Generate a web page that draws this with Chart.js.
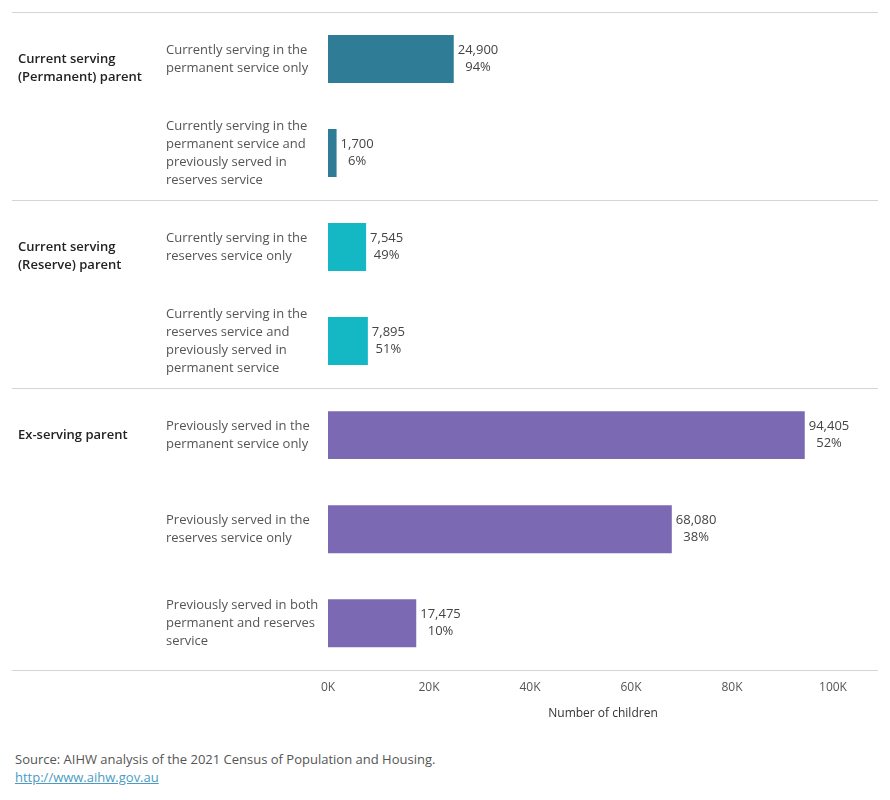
<!DOCTYPE html>
<html>
<head>
<meta charset="utf-8">
<script src="https://cdn.jsdelivr.net/npm/chart.js@4"></script>
<style>
    body { margin: 0; background: #fff; font-family: "Open Sans", sans-serif; }
    #wrap { position: relative; width: 890px; height: 800px; }
    #chart { position: absolute; left: 0; top: 0; }
    .note { position: absolute; left: 15px; font-size: 13px; color: #555; }
    .note a { color: #4a9bc4; }
</style>
</head>
<body>
<div id="wrap">
    <canvas id="chart" width="890" height="725"></canvas>
    <div class="note" style="top: 750px;">Source: AIHW analysis of the 2021 Census of Population and Housing.</div>
    <div class="note" style="top: 768px;"><a href="#">http://www.aihw.gov.au</a></div>
</div>
<script>
const groupLabels = [
    ['Current serving', '(Permanent) parent'],
    ['Current serving', '(Reserve) parent'],
    ['Ex-serving parent']
];
const groupSizes = [2, 2, 3];
const categories = [
    ['Currently serving in the', 'permanent service only'],
    ['Currently serving in the', 'permanent service and', 'previously served in', 'reserves service'],
    ['Currently serving in the', 'reserves service only'],
    ['Currently serving in the', 'reserves service and', 'previously served in', 'permanent service'],
    ['Previously served in the', 'permanent service only'],
    ['Previously served in the', 'reserves service only'],
    ['Previously served in both', 'permanent and reserves', 'service']
];
const children = [24900, 1700, 7545, 7895, 94405, 68080, 17475];
const shares = ['94%', '6%', '49%', '51%', '52%', '38%', '10%'];
const groupColors = ['#2e7c96', '#14b8c4', '#7b6ab3'];
const tickValues = [0, 20000, 40000, 60000, 80000, 100000];

// colour of each bar follows its group
const barColors = [];
groupSizes.forEach((n, g) => { for (let i = 0; i < n; i++) barColors.push(groupColors[g]); });

const FONT = '"Open Sans", sans-serif';

const groupPlugin = {
    id: 'groups',
    afterDraw(chart) {
        const ctx = chart.ctx;
        const y = chart.scales.y;
        const step = y.getPixelForValue(1) - y.getPixelForValue(0);
        ctx.save();
        // separators at group boundaries
        ctx.strokeStyle = '#d4d4d4';
        ctx.lineWidth = 1;
        let idx = 0;
        const bounds = [0];
        groupSizes.forEach(n => { idx += n; bounds.push(idx); });
        bounds.forEach(b => {
            const py = Math.round(y.getPixelForValue(b) - step / 2) + 0.5;
            ctx.beginPath();
            ctx.moveTo(12, py);
            ctx.lineTo(878, py);
            ctx.stroke();
        });
        // group labels, first line level with the group's first bar
        ctx.fillStyle = '#222';
        ctx.font = '600 13px ' + FONT;
        ctx.textAlign = 'left';
        ctx.textBaseline = 'middle';
        groupLabels.forEach((lines, g) => {
            const py = y.getPixelForValue(bounds[g]);
            lines.forEach((t, k) => ctx.fillText(t, 18, py + k * 18));
        });
        // value labels at the end of each bar
        ctx.font = '13px ' + FONT;
        ctx.fillStyle = '#444';
        ctx.textAlign = 'center';
        chart.getDatasetMeta(0).data.forEach((bar, i) => {
            const a = children[i].toLocaleString('en-US');
            const b = shares[i];
            const w = Math.max(ctx.measureText(a).width, ctx.measureText(b).width);
            const cx = bar.x + 4 + w / 2;
            ctx.fillText(a, cx, bar.y - 8.5);
            ctx.fillText(b, cx, bar.y + 8.5);
        });
        ctx.restore();
    }
};

new Chart(document.getElementById('chart'), {
    type: 'bar',
    data: {
        labels: categories,
        datasets: [{
            data: children,
            backgroundColor: barColors,
            barPercentage: 1,
            categoryPercentage: 0.51
        }]
    },
    options: {
        indexAxis: 'y',
        responsive: false,
        animation: false,
        layout: { padding: { left: 166, right: 12, top: 12, bottom: 0 } },
        plugins: {
            legend: { display: false },
            tooltip: { enabled: false }
        },
        scales: {
            y: {
                grid: { display: false },
                border: { display: false },
                afterFit(scale) {
                    scale.width = 162;
                    scale.paddingTop = 0;
                    scale.paddingBottom = 0;
                },
                ticks: {
                    crossAlign: 'far',
                    color: '#555',
                    font: { family: FONT, size: 13, lineHeight: 1.385 }
                }
            },
            x: {
                min: 0,
                max: 108911,
                afterBuildTicks(scale) { scale.ticks = tickValues.map(v => ({ value: v })); },
                grid: { display: false },
                border: { display: false },
                ticks: {
                    padding: 2,
                    color: '#555',
                    font: { family: FONT, size: 12 },
                    callback: v => (v / 1000) + 'K'
                },
                title: {
                    display: true,
                    text: 'Number of children',
                    color: '#333',
                    font: { family: FONT, size: 12 },
                    padding: { top: 10 }
                }
            }
        }
    },
    plugins: [groupPlugin]
});
</script>
</body>
</html>
